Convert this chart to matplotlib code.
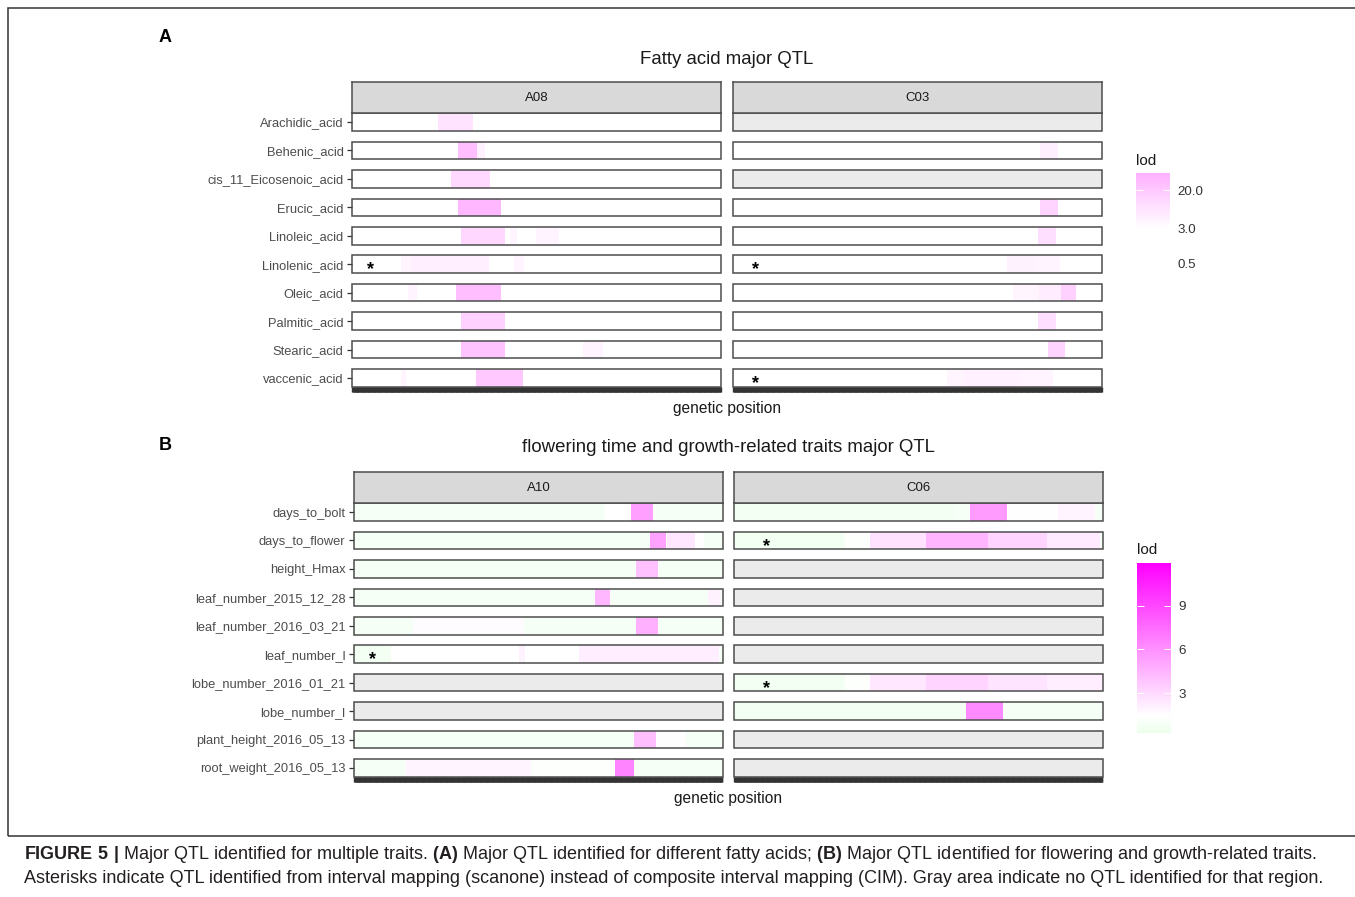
import numpy as np
import matplotlib
matplotlib.use("Agg")
import matplotlib.pyplot as plt
from matplotlib import font_manager
from matplotlib.colors import LinearSegmentedColormap, LogNorm, Normalize
from matplotlib.patches import Rectangle
from matplotlib.cm import ScalarMappable

plt.rcParams['font.family'] = ['Liberation Sans', 'DejaVu Sans']
installed = {f.name for f in font_manager.fontManager.ttflist}
CAPTION_FONT = "Liberation Sans Narrow" if "Liberation Sans Narrow" in installed else "Liberation Sans"
plt.rcParams['mathtext.fontset'] = 'custom'
plt.rcParams['mathtext.rm'] = CAPTION_FONT
plt.rcParams['mathtext.bf'] = CAPTION_FONT + ':bold'

W, H = 1355, 897

# ---- data: QTL segments (start, end, lod) on a 0-100 genetic position scale ----
# None = no QTL identified for that trait / chromosome (gray tile)
fatty_traits = ["Arachidic_acid", "Behenic_acid", "cis_11_Eicosenoic_acid", "Erucic_acid",
                "Linoleic_acid", "Linolenic_acid", "Oleic_acid", "Palmitic_acid",
                "Stearic_acid", "vaccenic_acid"]
fatty_chroms = ["A08", "C03"]
fatty_A08 = [
    [(23.2, 32.7, 8.0)],
    [(28.7, 34.1, 28.0), (34.1, 36.0, 5.0)],
    [(26.8, 37.4, 11.0)],
    [(28.7, 40.6, 36.0)],
    [(29.5, 41.5, 12.0), (42.8, 44.7, 4.2), (50.0, 56.0, 4.5)],
    [(13.3, 16.0, 4.2), (16.0, 36.9, 5.2), (44.0, 46.5, 4.5)],
    [(15.2, 17.6, 4.5), (28.2, 40.6, 28.0)],
    [(29.5, 41.5, 15.0)],
    [(29.5, 41.5, 24.0), (62.6, 68.0, 4.5)],
    [(13.3, 14.4, 4.3), (33.6, 46.3, 20.0)],
]
fatty_C03 = [
    None,
    [(83.2, 88.0, 5.2)],
    None,
    [(83.2, 88.0, 13.0)],
    [(82.7, 87.5, 9.0)],
    [(74.2, 82.0, 4.8), (82.0, 88.6, 4.4)],
    [(76.0, 83.0, 4.3), (83.0, 89.0, 5.5), (89.0, 93.0, 15.0)],
    [(82.7, 87.5, 9.0)],
    [(85.5, 90.0, 13.0)],
    [(58.0, 62.6, 4.2), (62.6, 77.7, 5.0), (77.7, 86.7, 4.4)],
]
fatty_stars = {"A08": ["Linolenic_acid"], "C03": ["Linolenic_acid", "vaccenic_acid"]}
fatty_lod_ticks = [20.0, 3.0, 0.5]

growth_traits = ["days_to_bolt", "days_to_flower", "height_Hmax", "leaf_number_2015_12_28",
                 "leaf_number_2016_03_21", "leaf_number_l", "lobe_number_2016_01_21",
                 "lobe_number_l", "plant_height_2016_05_13", "root_weight_2016_05_13"]
growth_chroms = ["A10", "C06"]
growth_A10 = [
    [(68.0, 75.3, 1.4), (75.3, 81.1, 5.4)],
    [(80.2, 84.7, 5.3), (85.0, 92.4, 2.4), (92.4, 95.0, 1.4)],
    [(76.6, 82.5, 4.0)],
    [(65.6, 69.6, 4.4), (96.0, 99.5, 2.0)],
    [(16.0, 46.0, 1.6), (76.6, 82.5, 4.7)],
    [(0.0, 10.0, 0.8), (10.0, 61.0, 1.4), (44.8, 46.6, 2.0), (61.0, 99.0, 2.2)],
    None,
    None,
    [(76.1, 82.0, 4.1), (82.0, 90.0, 1.5)],
    [(14.0, 48.0, 1.9), (48.0, 70.7, 1.3), (70.7, 76.1, 6.5)],
]
growth_C06 = [
    [(0.0, 60.0, 0.7), (64.0, 73.9, 5.6), (73.9, 88.0, 1.5), (88.0, 98.0, 1.9)],
    [(0.0, 30.0, 0.7), (30.0, 36.9, 1.3), (36.9, 52.0, 2.7), (52.0, 69.0, 4.5),
     (69.0, 85.0, 3.2), (85.0, 99.2, 2.3)],
    None,
    None,
    None,
    None,
    [(0.0, 30.0, 0.7), (30.0, 36.9, 1.3), (36.9, 52.0, 2.4), (52.0, 69.0, 3.2),
     (69.0, 85.0, 2.6), (85.0, 100.0, 2.2)],
    [(0.0, 62.9, 0.8), (62.9, 72.9, 6.3), (72.9, 100.0, 0.9)],
    None,
    None,
]
growth_stars = {"A10": ["leaf_number_l"], "C06": ["days_to_flower", "lobe_number_2016_01_21"]}
growth_lod_ticks = [3, 6, 9]

caption_1 = (r"$\mathbf{FIGURE\ 5\ |}$ Major QTL identified for multiple traits. $\mathbf{(A)}$ "
             r"Major QTL identified for different fatty acids; $\mathbf{(B)}$ Major QTL "
             r"identified for flowering and growth-related traits.")
caption_2 = ("Asterisks indicate QTL identified from interval mapping (scanone) instead of "
             "composite interval mapping (CIM). Gray area indicate no QTL identified for that region.")

# ---- colour scales ----
cmap_fatty = LinearSegmentedColormap.from_list(
    "fatty", [(0.0, "#FFFFFF"), (0.395, "#FFFFFF"), (1.0, "#FFB0FF")])
norm_fatty = LogNorm(vmin=0.5, vmax=46.8)
cmap_growth = LinearSegmentedColormap.from_list(
    "growth", [(0.0, "#ECFFEC"), (0.1, "#FFFFFF"), (1.0, "#FF00FF")])
norm_growth = Normalize(vmin=0.3, vmax=11.9)

EDGE = "#4D4D4D"
HALF = 0.31


def box(x0, y0, x1, y1):
    return [x0 / W, 1 - y1 / H, (x1 - x0) / W, (y1 - y0) / H]


def draw_facet(fig, rect, strip_rect, chrom, rows, traits, stars, star_x,
               cmap, norm, baseline, show_labels):
    ax = fig.add_axes(box(*rect))
    edges = np.linspace(0, 100, 401)
    mids = (edges[:-1] + edges[1:]) / 2
    for i, segs in enumerate(rows):
        if segs is None:
            ax.add_patch(Rectangle((0, i - HALF), 100, 2 * HALF, facecolor="#EBEBEB",
                                   edgecolor=EDGE, lw=1.1, clip_on=False, zorder=2))
            continue
        vals = np.full(mids.shape, baseline)
        for s, e, v in segs:
            vals[(mids >= s) & (mids < e)] = v
        ax.pcolormesh(edges, [i - HALF, i + HALF], vals[None, :], cmap=cmap, norm=norm,
                      shading="flat", zorder=1)
        ax.add_patch(Rectangle((0, i - HALF), 100, 2 * HALF, facecolor="none",
                               edgecolor=EDGE, lw=1.1, clip_on=False, zorder=2))
        if traits[i] in stars:
            ax.text(star_x, i + 0.36, "*", ha="center", va="baseline", fontsize=13,
                    weight="bold", color="black", zorder=3)
    ax.set_xlim(0, 100)
    ax.set_ylim(len(rows) - 1 + HALF, -HALF)
    for sp in ax.spines.values():
        sp.set_visible(False)
    ax.set_facecolor("none")
    # dense marker ticks along the genetic position axis (they merge into a dark band)
    ax.set_xticks(np.linspace(0.1, 99.9, 800))
    ax.tick_params(axis="x", length=3.8, width=1.0, color="#333333", labelbottom=False)
    if show_labels:
        ax.set_yticks(range(len(traits)))
        ax.set_yticklabels(traits)
        ax.tick_params(axis="y", length=3.6, width=0.9, color="#333333",
                       labelcolor="#4D4D4D", labelsize=9.3, pad=2.5)
    else:
        ax.set_yticks([])
    sax = fig.add_axes(box(*strip_rect))
    sax.set_facecolor("#D9D9D9")
    sax.set_xticks([])
    sax.set_yticks([])
    for sp in sax.spines.values():
        sp.set_color(EDGE)
        sp.set_linewidth(1.1)
    sax.text(0.5, 0.5, chrom, transform=sax.transAxes, ha="center", va="center",
             fontsize=9.5, color="#1A1A1A")
    return ax


def draw_legend(fig, title_xy, cax_rect, cmap, norm, ticks, labels):
    fig.text(title_xy[0] / W, 1 - title_xy[1] / H, "lod", ha="left", va="center",
             fontsize=11, color="#1A1A1A")
    cax = fig.add_axes(box(*cax_rect))
    cb = fig.colorbar(ScalarMappable(norm=norm, cmap=cmap), cax=cax)
    cb.outline.set_visible(False)
    cb.set_ticks(ticks)
    cb.set_ticklabels(labels)
    cb.minorticks_off()
    cax.tick_params(axis="y", which="both", direction="in", left=True, right=True,
                    length=5, width=0.7, color="white", labelcolor="#333333",
                    labelsize=9.6, pad=5.5)


fig = plt.figure(figsize=(W / 100, H / 100), dpi=100)

# outer frame
fig.add_artist(Rectangle((8 / W, 1 - 836 / H), (1362 - 8) / W, (836 - 8) / H,
                         transform=fig.transFigure, fill=False, edgecolor="#333333", lw=1.1))

# ---- panel A ----
fig.text(165 / W, 1 - 38 / H, "A", ha="center", va="center", fontsize=13, weight="bold")
fig.text(727 / W, 1 - 59 / H, "Fatty acid major QTL", ha="center", va="center", fontsize=13.4,
         color="#1A1A1A")
draw_facet(fig, (352, 113.2, 721, 386.8), (352, 82, 721, 113.2), fatty_chroms[0], fatty_A08,
           fatty_traits, fatty_stars["A08"], 5.1, cmap_fatty, norm_fatty, 1.0, True)
draw_facet(fig, (733, 113.2, 1102, 386.8), (733, 82, 1102, 113.2), fatty_chroms[1], fatty_C03,
           fatty_traits, fatty_stars["C03"], 6.2, cmap_fatty, norm_fatty, 1.0, False)
fig.text(727 / W, 1 - 408 / H, "genetic position", ha="center", va="center", fontsize=11.2,
         color="#1A1A1A")
draw_legend(fig, (1136, 161), (1136, 173, 1170, 264), cmap_fatty, norm_fatty,
            fatty_lod_ticks, ["%.1f" % t for t in fatty_lod_ticks])

# ---- panel B ----
fig.text(165 / W, 1 - 445 / H, "B", ha="center", va="center", fontsize=13, weight="bold")
fig.text(728 / W, 1 - 448 / H, "flowering time and growth-related traits major QTL",
         ha="center", va="center", fontsize=13.4, color="#1A1A1A")
draw_facet(fig, (354, 503.2, 722.7, 776.8), (354, 472, 722.7, 503.2), growth_chroms[0],
           growth_A10, growth_traits, growth_stars["A10"], 5.0, cmap_growth, norm_growth,
           0.9, True)
draw_facet(fig, (734, 503.2, 1102.7, 776.8), (734, 472, 1102.7, 503.2), growth_chroms[1],
           growth_C06, growth_traits, growth_stars["C06"], 8.9, cmap_growth, norm_growth,
           0.9, False)
fig.text(728 / W, 1 - 798 / H, "genetic position", ha="center", va="center", fontsize=11.2,
         color="#1A1A1A")
draw_legend(fig, (1137, 550), (1137, 563, 1171, 733), cmap_growth, norm_growth,
            growth_lod_ticks, [str(t) for t in growth_lod_ticks])

# ---- caption ----
t1 = fig.text(24 / W, 1 - 854 / H, caption_1, ha="left", va="center", fontsize=12,
              color="#231F20", family=CAPTION_FONT)
t2 = fig.text(24 / W, 1 - 878 / H, caption_2, ha="left", va="center", fontsize=12,
              color="#231F20", family=CAPTION_FONT)
renderer = fig.canvas.get_renderer()
w1 = t1.get_window_extent(renderer).width
size = 12 * (1318 - 24) / w1
t1.set_fontsize(size)
t2.set_fontsize(size)

fig.savefig("out.png", dpi=100)
